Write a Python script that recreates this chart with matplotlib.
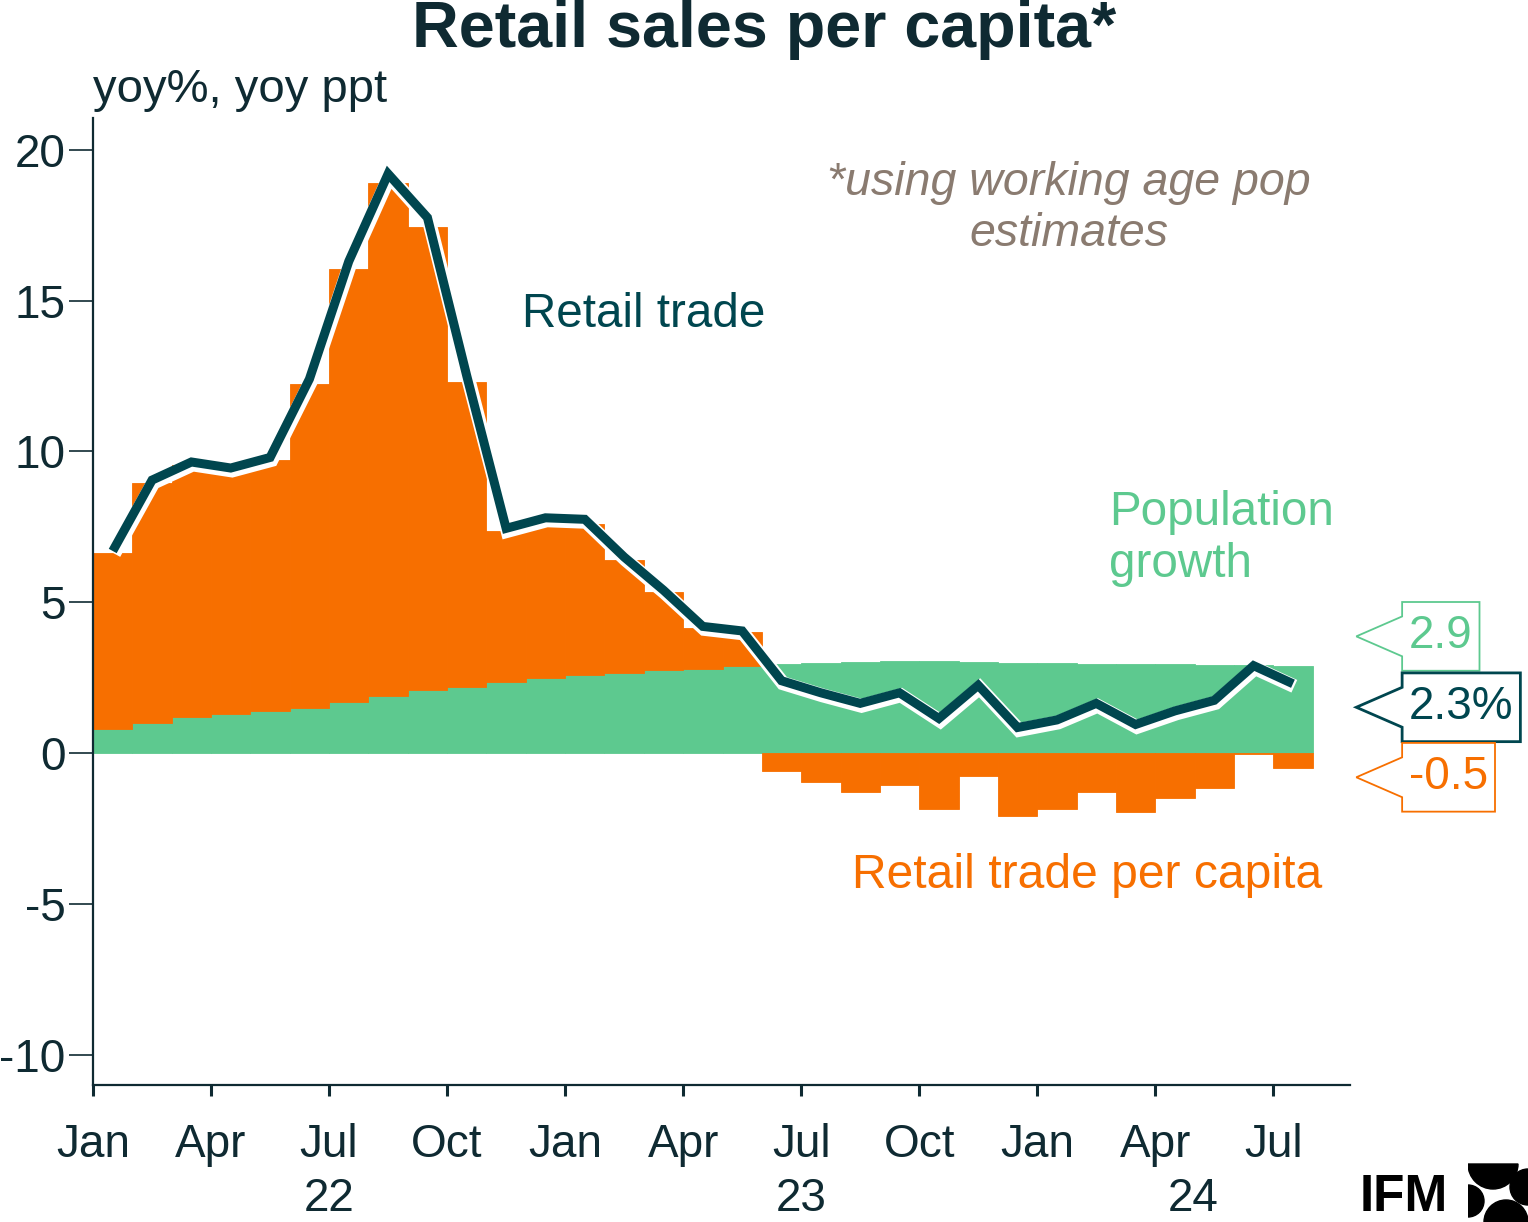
import numpy as np
import matplotlib
matplotlib.use("Agg")
import matplotlib.pyplot as plt
import matplotlib.patheffects as pe
from matplotlib.path import Path
from matplotlib.patches import Wedge

plt.rcParams["font.family"] = ["Liberation Sans", "DejaVu Sans"]

# Monthly data, Jan 2022 - Jul 2024
months = ["Jan", "Feb", "Mar", "Apr", "May", "Jun", "Jul", "Aug", "Sep", "Oct", "Nov", "Dec"]
years = ["22", "23", "24"]
retail_trade = [6.7, 9.05, 9.65, 9.45, 9.8, 12.4, 16.3, 19.2, 17.75, 12.5, 7.45, 7.8,
                7.75, 6.5, 5.4, 4.2, 4.05, 2.4, 2.0, 1.65, 2.0, 1.15, 2.25, 0.85,
                1.1, 1.65, 0.95, 1.4, 1.75, 2.9, 2.3]
pop_growth = [0.8, 1.0, 1.2, 1.3, 1.4, 1.5, 1.7, 1.9, 2.1, 2.2, 2.35, 2.5,
              2.6, 2.65, 2.75, 2.8, 2.9, 2.95, 3.0, 3.02, 3.05, 3.05, 3.02, 3.0,
              2.98, 2.95, 2.95, 2.94, 2.93, 2.92, 2.9]
per_capita = [5.85, 7.95, 8.35, 8.05, 8.3, 10.75, 14.35, 17.0, 15.35, 10.1, 5.0, 5.15,
              5.0, 3.75, 2.6, 1.35, 1.1, -0.6, -0.95, -1.3, -1.05, -1.85, -0.75, -2.08,
              -1.85, -1.28, -1.95, -1.5, -1.15, -0.03, -0.5]
end_labels = ["2.9", "2.3%", "-0.5"]

ORANGE = "#F76F00"
GREEN = "#5DC98F"
TEAL = "#00464F"
DARK = "#0F2A32"
NOTE = "#8A7B70"

n = len(retail_trade)
x = np.arange(n) + 0.5
pop = np.array(pop_growth)
pc = np.array(per_capita)

fig = plt.figure(figsize=(15.28, 12.22), dpi=100)
ax = fig.add_axes([0.0609, 0.1121, 0.8226, 0.7913])

# stacked bars: population at bottom, per-capita on top (or below zero)
ax.bar(x, pop, width=1.0, color=GREEN, linewidth=0.6, edgecolor=GREEN, zorder=2)
pc_bottom = np.where(pc > 0, pop, 0)
ax.bar(x, pc, width=1.0, bottom=pc_bottom, color=ORANGE, linewidth=0.6, edgecolor=ORANGE, zorder=2)

# retail trade line with white halo
ax.plot(x, retail_trade, color=TEAL, lw=6.5, solid_capstyle="butt", solid_joinstyle="miter", zorder=4,
        path_effects=[pe.Stroke(linewidth=10, foreground="white", offset=(1, -1.8)), pe.Normal()])

ax.set_xlim(0, 31.95)
ax.set_ylim(-11, 21.05)

for side in ["top", "right"]:
    ax.spines[side].set_visible(False)
for side in ["left", "bottom"]:
    ax.spines[side].set_color(DARK)
    ax.spines[side].set_linewidth(1.6)

ax.set_yticks([-10, -5, 0, 5, 10, 15, 20])
ax.set_yticklabels(["-10", "-5", "0", "5", "10", "15", "20"])
ax.tick_params(axis="y", length=17, width=1.2, color=DARK, labelsize=33, labelcolor=DARK, pad=3)

qticks = np.arange(0, n, 3)
ax.set_xticks(qticks)
ax.set_xticklabels([months[i % 12] for i in qticks])
ax.set_xticks(np.arange(0, n, 12), minor=True)
ax.tick_params(axis="x", which="major", length=8, width=2.2, color=DARK, labelsize=33, labelcolor=DARK, pad=19)
ax.tick_params(axis="x", which="minor", length=20, width=2.2, color=DARK)

# year labels centred on each year's visible span
xmax = ax.get_xlim()[1]
for k, yr in enumerate(years):
    start = 12 * k
    end = min(12 * (k + 1), xmax)
    ax.text((start + end) / 2, -0.1175, yr, transform=ax.get_xaxis_transform(),
            ha="center", va="center", fontsize=33, color=DARK)

# series labels
ax.text(10.9, 14.55, "Retail trade", color=TEAL, fontsize=34.3, va="center", ha="left")
ax.text(25.83, 7.1, "Population\ngrowth", color=GREEN, fontsize=34.3, va="center", ha="left",
        linespacing=1.2)
ax.text(19.28, -4.05, "Retail trade per capita", color=ORANGE, fontsize=34.6, va="center", ha="left")
ax.text(24.8, 18.05, "*using working age pop\nestimates", color=NOTE, fontsize=33.5, style="italic",
        va="center", ha="center", linespacing=1.18)


# end-value tags: box with a left-pointing notch
def tag_box(x0, y0, width, height, mutation_size):
    xpad = 0.15 * mutation_size
    ypad = 0.27 * mutation_size
    x0, y0 = x0 - xpad, y0 - ypad
    width, height = width + 2 * xpad, height + 2 * ypad
    tip = 1.0 * mutation_size
    cy = y0 + height / 2
    half = 0.29 * height
    verts = [(x0, y0), (x0 + width, y0), (x0 + width, y0 + height), (x0, y0 + height),
             (x0, cy + half), (x0 - tip, cy), (x0, cy - half), (x0, y0)]
    return Path(verts, closed=True)


tag_y = [3.87, 1.52, -0.8]
tag_colors = [GREEN, TEAL, ORANGE]
tag_lw = [1.3, 2.0, 1.3]
for lab, ty, c, lw in zip(end_labels, tag_y, tag_colors, tag_lw):
    ax.text(33.45, ty, lab, color=c, fontsize=33, ha="left", va="center", clip_on=False,
            bbox=dict(boxstyle=tag_box, facecolor="white", edgecolor=c, linewidth=lw))

fig.text(0.5, 0.9615, "Retail sales per capita*", ha="center", va="baseline",
         fontsize=46.5, fontweight="bold", color=DARK)
fig.text(0.0609, 0.926, "yoy%, yoy ppt", ha="left", va="center", fontsize=34, color=DARK)

# IFM logo
fig.text(0.9476, 0.009, "IFM", ha="right", va="baseline", fontsize=37, fontweight="bold", color="black")
W, H = 1528, 1222
lax = fig.add_axes([1468 / W, 0, 60 / W, 60 / H])
lax.set_xlim(0, 60)
lax.set_ylim(0, 60)
lax.axis("off")
lax.add_patch(Wedge((25, 58), 25, 180, 360, color="black"))
lax.add_patch(Wedge((60, 35), 18, 90, 270, color="black"))
lax.add_patch(Wedge((0, 21), 16, -90, 90, color="black"))
lax.add_patch(Wedge((38, 0), 22, 0, 180, color="black"))

fig.savefig("out.png", dpi=100)
